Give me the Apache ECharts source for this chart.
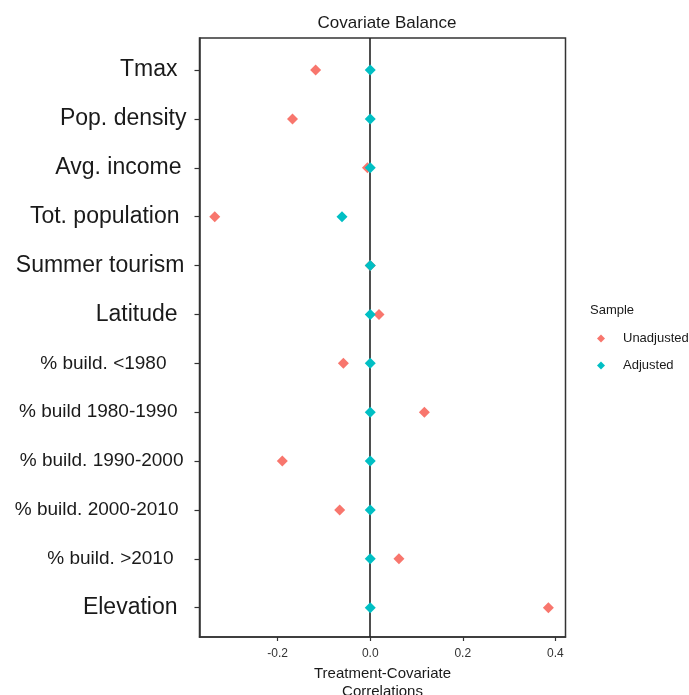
<!DOCTYPE html>
<html>
<head>
<meta charset="utf-8">
<script src="https://cdn.jsdelivr.net/npm/echarts@6/dist/echarts.min.js"></script>
<style>html,body{margin:0;padding:0;background:#fff}#c{width:689px;height:695px}</style>
</head>
<body>
<div id="c"></div>
<script>
const categories = ["Tmax","Pop. density","Avg. income","Tot. population","Summer tourism","Latitude","% build. <1980","% build 1980-1990","% build. 1990-2000","% build. 2000-2010","% build. >2010","Elevation"];
const unadjusted = [-0.118,-0.168,-0.006,-0.336,0.0,0.019,-0.058,0.117,-0.190,-0.066,0.062,0.385];
const adjusted   = [0.0,0.0,0.0,-0.061,0.0,0.0,0.0,0.0,0.0,0.0,0.0,0.0];
const xTicks = [-0.2,0.0,0.2,0.4];
const seriesNames = ["Unadjusted","Adjusted"];

// label styling (layout only)
const smallLabel = [false,false,false,false,false,false,true,true,true,true,true,false];
const labelPad = [9,0,5,7,2,9,20,9,3,8,13,9];

const chart = echarts.init(document.getElementById('c'), null, {renderer:'canvas'});
const idx = categories.map((_, i) => i);
const font = 'Liberation Sans, Arial, sans-serif';
chart.setOption({
  animation: false,
  backgroundColor: '#fff',
  title: [
    {text: 'Covariate Balance', left: 382, top: 10, textAlign: 'center',
     textStyle: {fontFamily: font, fontSize: 17, fontWeight: 'normal', color: '#1a1a1a'}},
    {text: 'Sample', left: 590, top: 304, padding: 0,
     textStyle: {fontFamily: font, fontSize: 13, fontWeight: 'normal', color: '#1a1a1a'}}
  ],
  legend: {
    orient: 'vertical', left: 592, top: 327, itemWidth: 8, itemHeight: 8, itemGap: 14,
    icon: 'diamond', data: seriesNames,
    textStyle: {fontFamily: font, fontSize: 13, color: '#1a1a1a', padding: [0,0,0,13]}
  },
  grid: {left: 199.5, right: 123.5, top: 38, bottom: 58, show: true, borderColor: '#333', borderWidth: 1.5,
    containLabel: false, outerBoundsMode: 'none'},
  xAxis: {
    type: 'value', min: -0.369, max: 0.422,
    splitLine: {show: false},
    axisLine: {show: true, onZero: false, lineStyle: {color: '#333', width: 1.5}},
    axisTick: {show: true, length: 4, customValues: xTicks, lineStyle: {color: '#333', width: 1.2}},
    axisLabel: {customValues: xTicks, formatter: v => v.toFixed(1), margin: 11,
      fontFamily: font, fontSize: 12, color: '#333'},
    name: 'Treatment-Covariate\nCorrelations', nameLocation: 'middle', nameGap: 25,
    nameTextStyle: {fontFamily: font, fontSize: 15, color: '#1a1a1a', lineHeight: 18, verticalAlign: 'top'}
  },
  yAxis: {
    type: 'value', inverse: true, min: -0.655, max: 11.6,
    splitLine: {show: false},
    axisLine: {show: true, onZero: false, lineStyle: {color: '#333', width: 1.5}},
    axisTick: {show: true, length: 5, customValues: idx, lineStyle: {color: '#333', width: 1.2}},
    axisLabel: {
      customValues: idx, margin: 13,
      formatter: v => {
        const i = Math.round(v);
        return (smallLabel[i] ? '{s' : '{b') + i + '|' + categories[i] + '}';
      },
      rich: Object.fromEntries(idx.flatMap(i => [
        ['b' + i, {fontFamily: font, fontSize: 23, color: '#1a1a1a', padding: [0, labelPad[i], 0, 0]}],
        ['s' + i, {fontFamily: font, fontSize: 19, color: '#1a1a1a', padding: [0, labelPad[i], 0, 0]}]
      ]))
    }
  },
  series: [
    {type: 'line', data: [], z: 1, silent: true,
     markLine: {silent: true, symbol: 'none', label: {show: false}, animation: false, z: 1,
       lineStyle: {color: '#222', width: 1.6, type: 'solid'}, data: [{xAxis: 0}]}},
    {name: seriesNames[0], type: 'scatter', symbol: 'diamond', symbolSize: 11, z: 3,
     itemStyle: {color: '#F8766D', opacity: 1}, data: unadjusted.map((v, i) => [v, i])},
    {name: seriesNames[1], type: 'scatter', symbol: 'diamond', symbolSize: 11, z: 4,
     itemStyle: {color: '#00BFC4', opacity: 1}, data: adjusted.map((v, i) => [v, i])}
  ]
});
</script>
</body>
</html>
